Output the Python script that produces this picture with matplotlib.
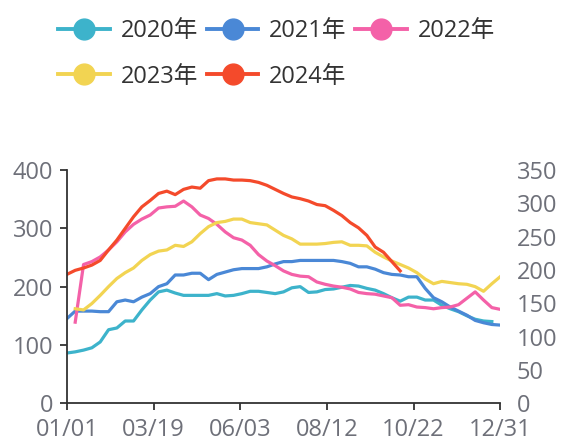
import numpy as np
import matplotlib
matplotlib.use('Agg')
import matplotlib.pyplot as plt
from matplotlib.lines import Line2D

plt.rcParams['font.family'] = ['Open Sans', 'Noto Sans CJK SC', 'DejaVu Sans']

# 周次 0..52, 数值读自原图
y2020 = [86, 88, 91, 95, 105, 126, 129, 141, 141, 160, 177, 191, 194, 189, 185, 185, 185,
         185, 188, 184, 185, 188, 192, 192, 190, 188, 191, 198, 200, 190, 191, 195, 196, 199,
         202, 201, 197, 194, 188, 181, 175, 182, 182, 177, 177, 168, 162, 157, 150, 144, 141, 140]
y2021 = [145, 158, 158, 158, 157, 157, 174, 177, 174, 182, 188, 200, 205, 220, 220, 223, 223,
         212, 221, 225, 229, 231, 231, 231, 234, 239, 243, 243, 245, 245, 245, 245, 245, 243,
         240, 234, 234, 230, 224, 221, 220, 217, 217, 197, 181, 174, 165, 158, 151, 142, 138, 135, 134]
y2022 = [None, 139, 238, 243, 251, 263, 277, 294, 307, 316, 323, 335, 337, 338, 347, 337, 323,
         317, 307, 294, 284, 280, 271, 255, 244, 236, 227, 221, 218, 217, 208, 204, 201, 199,
         196, 190, 188, 187, 184, 181, 168, 169, 165, 164, 162, 164, 165, 169, 180, 191, 177, 164, 161]
y2023 = [None, 162, 160, 171, 185, 200, 214, 224, 232, 245, 255, 261, 263, 271, 269, 277, 291,
         303, 310, 312, 316, 316, 310, 308, 306, 297, 288, 282, 273, 273, 273, 274, 276, 277,
         271, 271, 270, 259, 251, 244, 238, 232, 224, 213, 205, 209, 207, 205, 204, 200, 192, 205, 217]
y2024 = [221, 228, 232, 237, 245, 263, 280, 300, 320, 337, 348, 360, 364, 358, 367, 371, 369,
         382, 385, 385, 383, 383, 382, 379, 374, 367, 360, 354, 351, 347, 341, 339, 331, 322,
         310, 301, 288, 268, 259, 243, 227]

labels = ['2020年', '2021年', '2022年', '2023年', '2024年']
colors = ['#3db3cb', '#4a88d6', '#f461a8', '#f2d452', '#f44a2b']
series = [y2020, y2021, y2022, y2023, y2024]
xticklabels = ['01/01', '03/19', '06/03', '08/12', '10/22', '12/31']

fig = plt.figure(figsize=(5.62, 4.42), dpi=100)
ax = fig.add_axes([0.119, 0.088, 0.771, 0.527])

for ys, c in zip(series, colors):
    yy = np.array([np.nan if v is None else v for v in ys], dtype=float)
    ax.plot(np.arange(len(yy)), yy, color=c, lw=2.3, solid_joinstyle='round')

ax.set_xlim(0, 52)
ax.set_ylim(0, 400)
ax.set_xticks(np.linspace(0, 52, 6))
ax.set_xticklabels(xticklabels)
ax.set_yticks([0, 100, 200, 300, 400])
for s in ['top', 'right']:
    ax.spines[s].set_visible(False)
for s in ['left', 'bottom']:
    ax.spines[s].set_color('#333333')
    ax.spines[s].set_linewidth(1.3)
ax.tick_params(colors='#333333', labelcolor='#6e7079', labelsize=17, length=5, width=1.3)
ax.tick_params(axis='y', pad=5)
ax.tick_params(axis='x', pad=6)

ax2 = ax.twinx()
ax2.set_ylim(0, 350)
ax2.set_yticks(range(0, 351, 50))
for s in ['top', 'right', 'left', 'bottom']:
    ax2.spines[s].set_visible(False)
ax2.tick_params(length=0, labelcolor='#6e7079', labelsize=17, pad=12)

handles = [Line2D([], [], color=c, lw=2.8, marker='o', markersize=15) for c in colors]
order = [0, 3, 1, 4, 2]
fig.legend([handles[i] for i in order], [labels[i] for i in order], ncol=3,
           loc='upper left', bbox_to_anchor=(0.066, 1.004), frameon=False,
           fontsize=17, handlelength=2.2, handletextpad=0.45, columnspacing=0.35,
           labelspacing=0.9, labelcolor='#333333')

fig.savefig('out.png', dpi=100)
